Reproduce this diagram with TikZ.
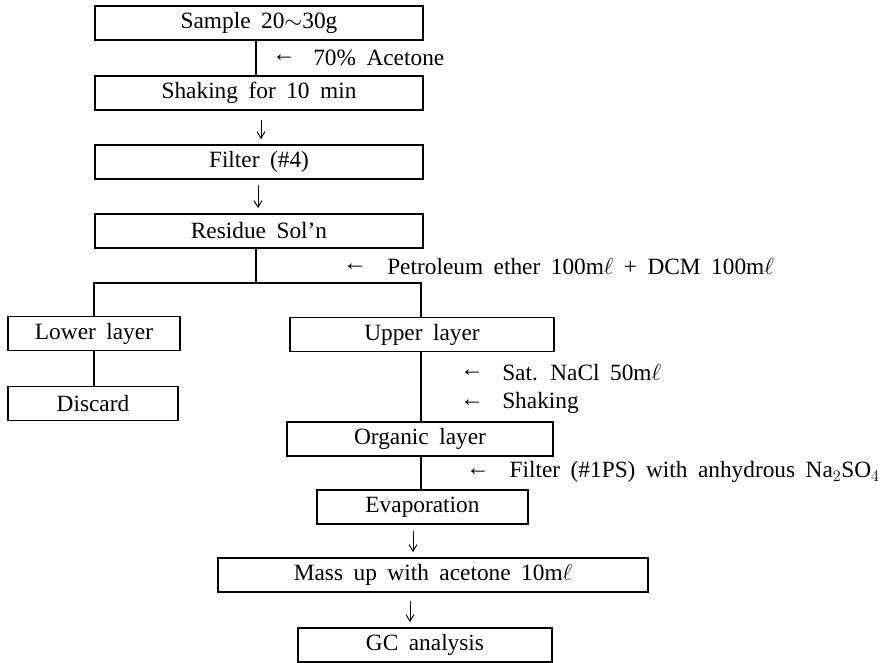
\documentclass[tikz,border=0pt]{standalone}
\usepackage{fontspec}
\setmainfont[WordSpace=1.8]{Liberation Serif}
\usetikzlibrary{arrows.meta}
\begin{document}
\begin{tikzpicture}[x=0.75pt,y=-0.75pt,
  txt/.style={font=\fontsize{17.5}{20}\selectfont},
  box/.style={txt,draw,line width=0.8pt,minimum height=25.5pt,inner sep=0pt},
  lbl/.style={txt,anchor=west,inner sep=0pt},
  conn/.style={line width=0.8pt},
  darr/.style={line width=0.7pt,-{Straight Barb[length=5pt,width=6pt]}}]
\useasboundingbox (0,0) rectangle (882,663);
\newcommand{\ml}{m$\ell$}
% boxes
\node[box,minimum width=246pt] (A) at (259,23) {Sample 20$\sim$30g};
\node[box,minimum width=246pt] (B) at (259,93) {Shaking for 10 min};
\node[box,minimum width=246pt] (C) at (259,162) {Filter (\#4)};
\node[box,minimum width=246pt] (D) at (259,231) {Residue Sol’n};
\node[box,minimum width=129pt] (L) at (94,333.5) {Lower layer};
\node[box,minimum width=127.5pt] (X) at (93,403.5) {Discard};
\node[box,minimum width=198pt] (U) at (422,334.5) {Upper layer};
\node[box,minimum width=199.5pt] (O) at (420,439) {Organic layer};
\node[box,minimum width=158.25pt] (E) at (422.5,507) {Evaporation};
\node[box,minimum width=322.5pt] (M) at (433,575) {Mass up with acetone 10\ml};
\node[box,minimum width=190.5pt] (G) at (425,645) {GC analysis};
% connector points
\coordinate (ab) at (256,0);
\coordinate (d1) at (256,283);
\coordinate (bl) at (94,283);
\coordinate (br) at (421,283);
\coordinate (ul) at (421,0);
% connectors
\draw[conn] (A.south -| ab) -- (B.north -| ab);
\draw[darr,shorten <=7pt,shorten >=4pt] (B.south -| 261,0) -- (C.north -| 261,0);
\draw[darr,shorten <=4pt,shorten >=4pt] (C.south -| 258,0) -- (D.north -| 258,0);
\draw[conn] (D.south -| ab) -- (d1);
\draw[conn] (L.north -| bl) -- (bl) -- (br) -- (U.north -| br);
\draw[conn] (L.south -| bl) -- (X.north -| bl);
\draw[conn] (U.south -| ul) -- (O.north -| ul);
\draw[conn] (O.south -| ul) -- (E.north -| ul);
\draw[darr,shorten <=5pt,shorten >=4pt] (E.south -| 413,0) -- (M.north -| 413,0);
\draw[darr,shorten <=6pt,shorten >=4pt] (M.south -| 410,0) -- (G.north -| 410,0);
% labels
\node[lbl] (a1) at (272,58) {←};
\node[lbl] (l1) at (313,58) {70\% Acetone};
\node[lbl] (a2) at (343,267) {←};
\node[lbl] (l2) at (387,267) {Petroleum ether 100\ml{} + DCM 100\ml};
\node[lbl] (a3) at (460,373) {←};
\node[lbl] (l3) at (502,373) {Sat. NaCl 50\ml};
\node[lbl] (a4) at (460,403) {←};
\node[lbl] (l4) at (502,403) {Shaking};
\node[lbl] (a5) at (466,472) {←};
\node[txt,anchor=east,inner sep=0pt] (l5) at (880,472) {Filter (\#1PS) with anhydrous Na$_2$SO$_4$};
\end{tikzpicture}
\end{document}
